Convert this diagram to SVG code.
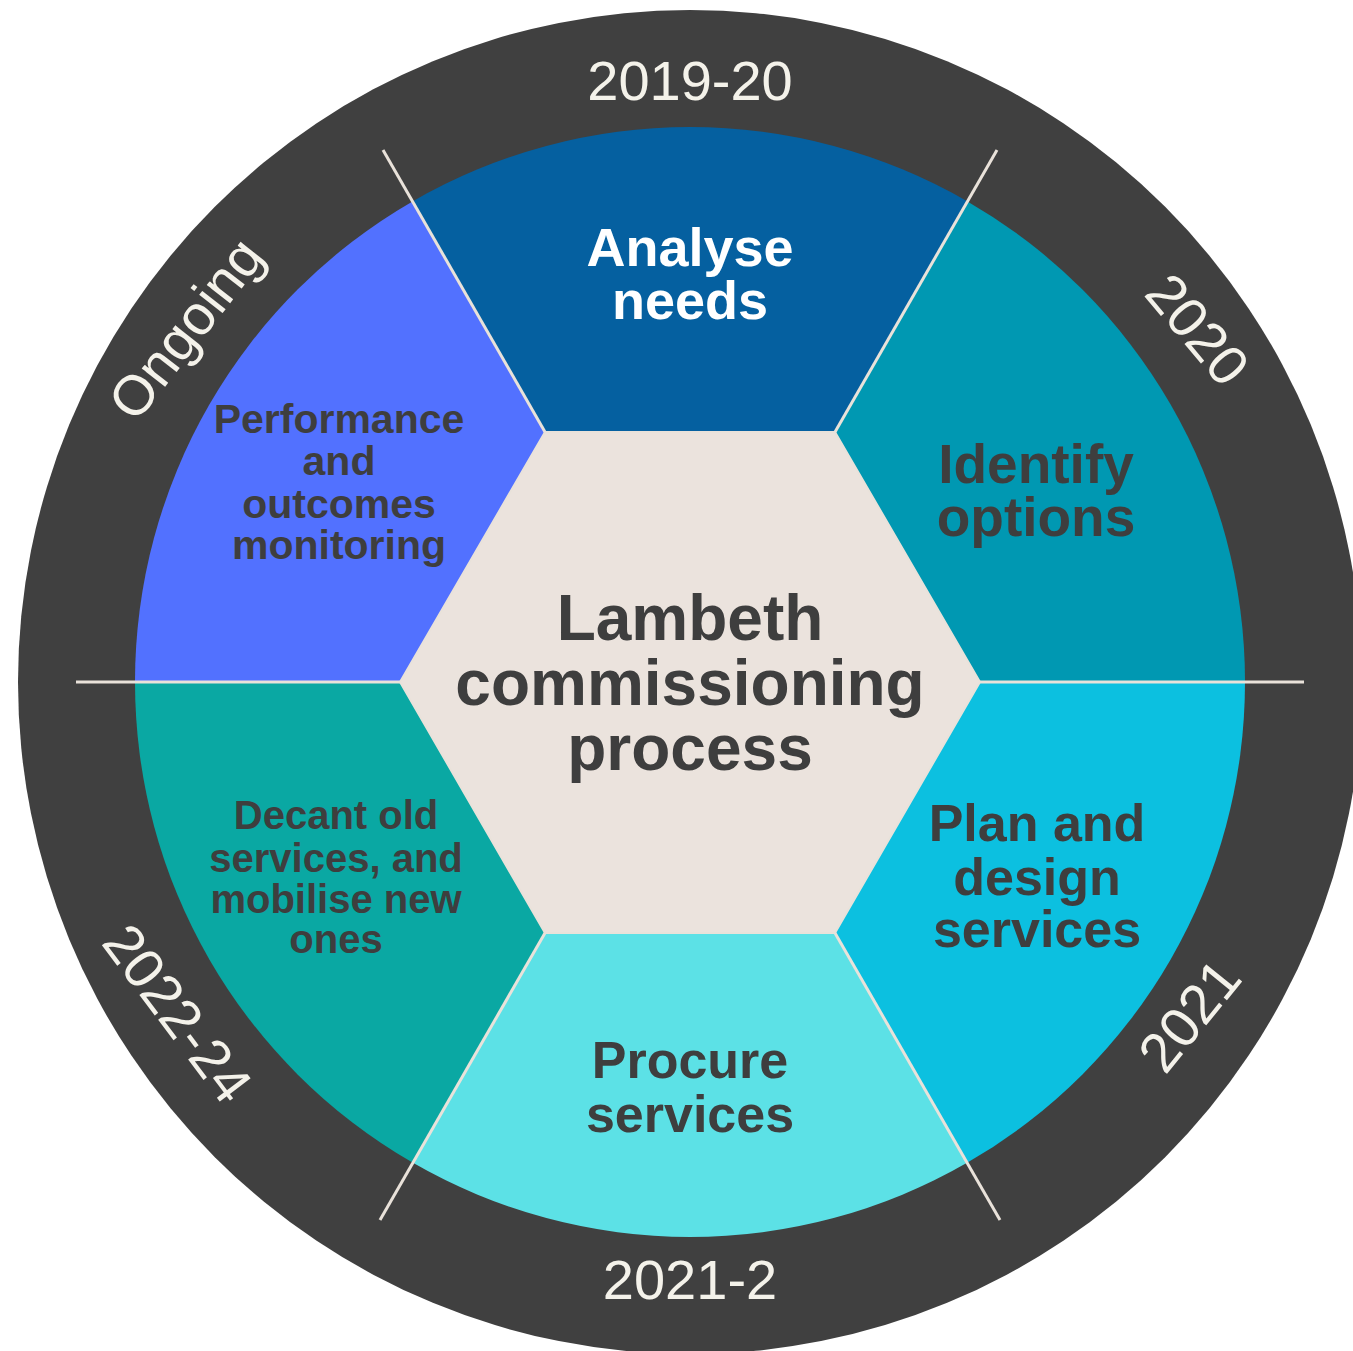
<svg xmlns="http://www.w3.org/2000/svg" width="1353" height="1351" viewBox="0 0 1353 1351">
<style>
.seg{font-family:"Liberation Sans",Arial,sans-serif;font-weight:bold;text-anchor:middle;fill:#3E3E3E}
.wh{fill:#FFFFFF}
.yr{font-family:"Liberation Sans",Arial,sans-serif;font-size:56px;text-anchor:middle;fill:#F4F2EA}
.div{stroke:#E9E2DA;stroke-width:3;fill:none}
</style>
<rect width="1353" height="1351" fill="#FFFFFF"/>
<g id="ring">
<circle cx="690" cy="682" r="672" fill="#404040"/>
</g>
<g id="analyse-needs">
<path d="M690,682 L412.5,201.4 A555,555 0 0 1 967.5,201.4 Z" fill="#0560A0"/>
<text class="seg wh" font-size="54"><tspan x="690" y="266">Analyse</tspan><tspan x="690" y="319">needs</tspan></text>
</g>
<g id="identify-options">
<path d="M690,682 L967.5,201.4 A555,555 0 0 1 1245,682 Z" fill="#0098B2"/>
<text class="seg" font-size="55"><tspan x="1036" y="483">Identify</tspan><tspan x="1036" y="536">options</tspan></text>
</g>
<g id="plan-design">
<path d="M690,682 L1245,682 A555,555 0 0 1 967.5,1162.6 Z" fill="#0CC0E0"/>
<text class="seg" font-size="52"><tspan x="1037" y="841">Plan and</tspan><tspan x="1037" y="895">design</tspan><tspan x="1037" y="947">services</tspan></text>
</g>
<g id="procure">
<path d="M690,682 L967.5,1162.6 A555,555 0 0 1 412.5,1162.6 Z" fill="#5CE1E6"/>
<text class="seg" font-size="52"><tspan x="690" y="1078">Procure</tspan><tspan x="690" y="1132">services</tspan></text>
</g>
<g id="decant">
<path d="M690,682 L412.5,1162.6 A555,555 0 0 1 135,682 Z" fill="#0AA8A3"/>
<text class="seg" font-size="40"><tspan x="336" y="829">Decant old</tspan><tspan x="336" y="872">services, and</tspan><tspan x="336" y="913">mobilise new</tspan><tspan x="336" y="953">ones</tspan></text>
</g>
<g id="performance">
<path d="M690,682 L135,682 A555,555 0 0 1 412.5,201.4 Z" fill="#5271FF"/>
<text class="seg" font-size="41"><tspan x="339" y="433">Performance</tspan><tspan x="339" y="475">and</tspan><tspan x="339" y="518">outcomes</tspan><tspan x="339" y="559">monitoring</tspan></text>
</g>
<g id="connectors">
<line class="div" x1="545" y1="432" x2="383" y2="150"/>
<line class="div" x1="835" y1="432" x2="997" y2="150"/>
<line class="div" x1="76" y1="682" x2="1304" y2="682"/>
<line class="div" x1="545" y1="933" x2="380" y2="1220"/>
<line class="div" x1="835" y1="933" x2="1000" y2="1220"/>
</g>
<g id="center">
<polygon points="400,682 545,432 835,432 980,682 835,933 545,933" fill="#EBE3DD" stroke="#E9E2DA" stroke-width="2"/>
<text class="seg" font-size="64"><tspan x="690" y="640">Lambeth</tspan><tspan x="690" y="705">commissioning</tspan><tspan x="690" y="770">process</tspan></text>
</g>
<g id="years">
<text class="yr" x="690" y="100">2019-20</text>
<text class="yr" x="690" y="1299">2021-2</text>
<text class="yr" transform="translate(190,332) rotate(-52)" x="0" y="14">Ongoing</text>
<text class="yr" transform="translate(1198,329) rotate(50)" x="0" y="20">2020</text>
<text class="yr" transform="translate(1189,1015) rotate(-51)" x="0" y="20">2021</text>
<text class="yr" transform="translate(178,1013) rotate(53)" x="0" y="20">2022-24</text>
</g>
</svg>
